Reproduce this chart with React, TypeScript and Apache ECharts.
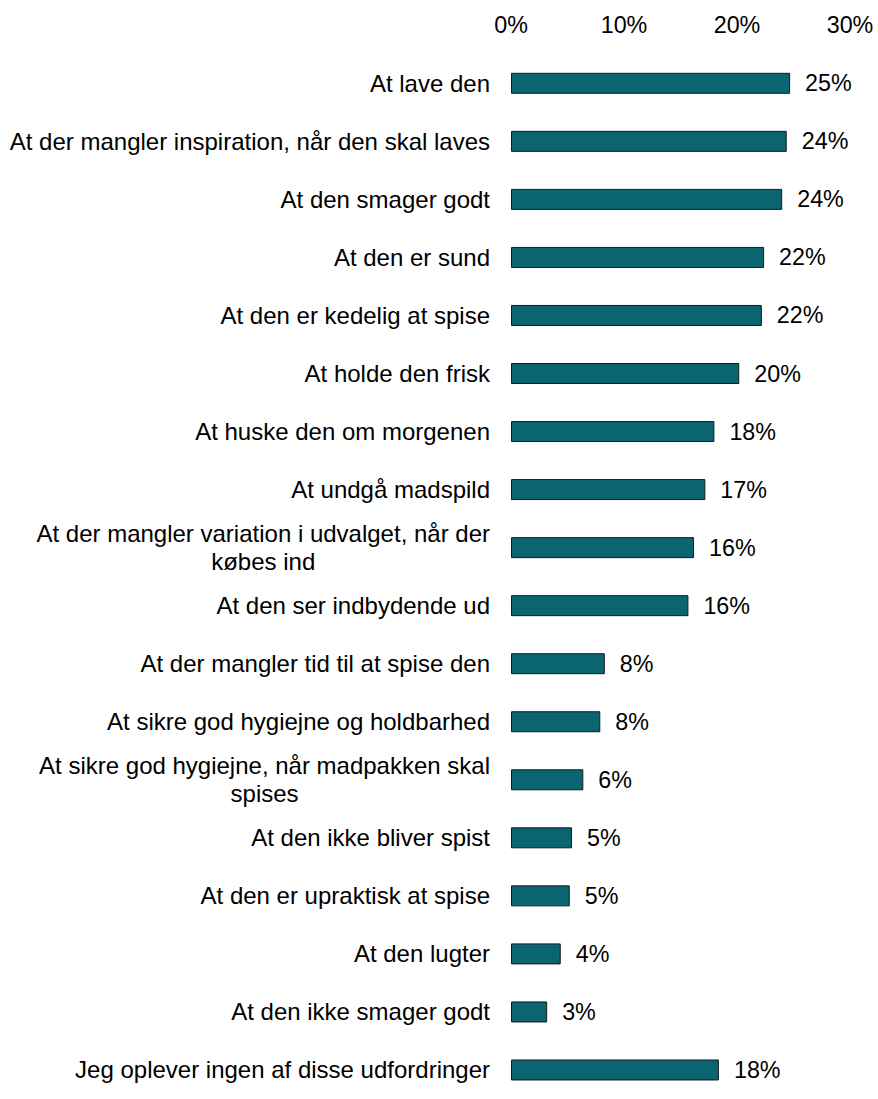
import React, { useEffect, useRef } from "react";
import * as echarts from "echarts";

const categories: string[] = [
  "At lave den",
  "At der mangler inspiration, når den skal laves",
  "At den smager godt",
  "At den er sund",
  "At den er kedelig at spise",
  "At holde den frisk",
  "At huske den om morgenen",
  "At undgå madspild",
  "At der mangler variation i udvalget, når der\nkøbes ind",
  "At den ser indbydende ud",
  "At der mangler tid til at spise den",
  "At sikre god hygiejne og holdbarhed",
  "At sikre god hygiejne, når madpakken skal\nspises",
  "At den ikke bliver spist",
  "At den er upraktisk at spise",
  "At den lugter",
  "At den ikke smager godt",
  "Jeg oplever ingen af disse udfordringer",
];

const values: number[] = [
  24.7, 24.4, 24.0, 22.4, 22.2, 20.2, 18.0, 17.2, 16.2, 15.7, 8.3, 7.9, 6.4,
  5.4, 5.2, 4.4, 3.2, 18.4,
];

const axisMin = 0;
const axisMax = 30;
const axisStep = 10;

const FONT = "'Liberation Sans', Arial, sans-serif";

export default function App() {
  const ref = useRef<HTMLDivElement>(null);

  useEffect(() => {
    if (!ref.current) return;
    const chart = echarts.init(ref.current, undefined, { renderer: "svg" });
    chart.setOption({
      animation: false,
      backgroundColor: "#ffffff",
      grid: { left: 511, right: 28, top: 54.3, height: 1062, containLabel: false },
      xAxis: {
        type: "value",
        position: "top",
        min: axisMin,
        max: axisMax,
        interval: axisStep,
        axisLine: { show: false },
        axisTick: { show: false },
        splitLine: { show: false },
        axisLabel: {
          formatter: "{value}%",
          fontSize: 23.3,
          fontFamily: FONT,
          color: "#000",
          margin: 18,
        },
      },
      yAxis: {
        type: "category",
        inverse: true,
        data: categories,
        axisLine: { show: false },
        axisTick: { show: false },
        axisLabel: {
          align: "right",
          margin: 21,
          fontSize: 24,
          fontFamily: FONT,
          color: "#000",
          lineHeight: 28,
          formatter: (v: string) =>
            v
              .split("\n")
              .map((l) => "{c|" + l + "}")
              .join("\n"),
          rich: {
            c: {
              align: "center",
              fontSize: 24,
              fontFamily: FONT,
              color: "#000",
              lineHeight: 28,
            },
          },
        },
      },
      series: [
        {
          type: "bar",
          data: values,
          barWidth: 21,
          itemStyle: {
            color: "#0a6570",
            borderColor: "#1a1a1a",
            borderWidth: 1,
          },
          label: {
            show: true,
            position: "right",
            distance: 15,
            formatter: (p: any) => Math.round(p.value) + "%",
            fontSize: 23.3,
            fontFamily: FONT,
            color: "#000",
          },
        },
      ],
    });
    return () => chart.dispose();
  }, []);

  return (
    <div
      ref={ref}
      style={{ position: "fixed", left: 0, top: 0, width: 878, height: 1099 }}
    />
  );
}
